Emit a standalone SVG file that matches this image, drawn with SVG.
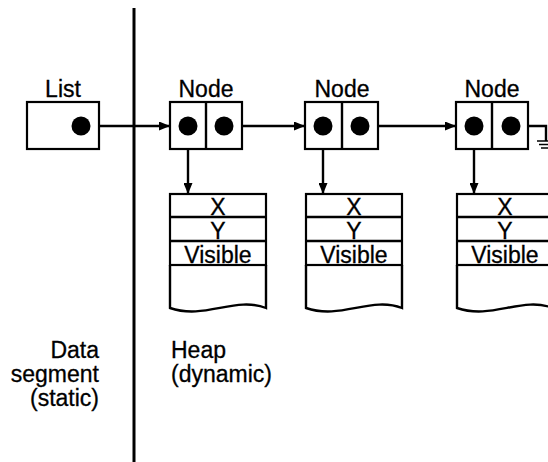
<svg xmlns="http://www.w3.org/2000/svg" width="548" height="462" viewBox="0 0 548 462">
  <style>
    .box { fill: #fff; stroke: #000; stroke-width: 2.2; }
    .line { fill: none; stroke: #000; stroke-width: 2.4; }
    .dot { fill: #000; }
    text { font-family: "Liberation Sans", Arial, sans-serif; font-size: 23px; fill: #000; stroke: #000; stroke-width: 0.3; }
    .mid { text-anchor: middle; }
    .end { text-anchor: end; }
  </style>
  <defs>
    <marker id="arrow" viewBox="0 0 11 9" refX="11" refY="4.5" markerWidth="11" markerHeight="9" markerUnits="userSpaceOnUse" orient="auto">
      <path d="M0,0 L11,4.5 L0,9 Z" fill="#000"/>
    </marker>
  </defs>

  <rect width="548" height="462" fill="#fff"/>

  <!-- boundary between static data and heap -->
  <line x1="134" y1="8" x2="134" y2="462" stroke="#000" stroke-width="3"/>

  <g id="regions">
    <text class="end" x="99" y="358">Data</text>
    <text class="end" x="99" y="382">segment</text>
    <text class="end" x="99" y="406">(static)</text>
    <text x="171" y="358">Heap</text>
    <text x="171" y="382">(dynamic)</text>
  </g>

  <!-- records -->
  <g id="record1">
    <rect class="box" x="170" y="194" width="96" height="71"/>
    <line class="line" x1="170" y1="217" x2="266" y2="217"/>
    <line class="line" x1="170" y1="241" x2="266" y2="241"/>
    <path class="line" d="M170,265 V308 C205,320 235,296 266,308 V265"/>
    <text class="mid" x="218" y="215">X</text>
    <text class="mid" x="218" y="239">Y</text>
    <text class="mid" x="218" y="263">Visible</text>
  </g>
  <g id="record2">
    <rect class="box" x="306" y="194" width="96" height="71"/>
    <line class="line" x1="306" y1="217" x2="402" y2="217"/>
    <line class="line" x1="306" y1="241" x2="402" y2="241"/>
    <path class="line" d="M306,265 V308 C341,320 371,296 402,308 V265"/>
    <text class="mid" x="354" y="215">X</text>
    <text class="mid" x="354" y="239">Y</text>
    <text class="mid" x="354" y="263">Visible</text>
  </g>
  <g id="record3">
    <rect class="box" x="457" y="194" width="96" height="71"/>
    <line class="line" x1="457" y1="217" x2="553" y2="217"/>
    <line class="line" x1="457" y1="241" x2="553" y2="241"/>
    <path class="line" d="M457,265 V308 C492,320 522,296 553,308 V265"/>
    <text class="mid" x="505" y="215">X</text>
    <text class="mid" x="505" y="239">Y</text>
    <text class="mid" x="505" y="263">Visible</text>
  </g>

  <!-- connectors -->
  <g id="connectors">
    <line class="line" x1="81" y1="126" x2="170" y2="126" marker-end="url(#arrow)"/>
    <line class="line" x1="224" y1="126" x2="305" y2="126" marker-end="url(#arrow)"/>
    <line class="line" x1="360" y1="126" x2="456" y2="126" marker-end="url(#arrow)"/>
    <line class="line" x1="188" y1="126" x2="188" y2="194" marker-end="url(#arrow)"/>
    <line class="line" x1="323" y1="126" x2="323" y2="194" marker-end="url(#arrow)"/>
    <line class="line" x1="474" y1="126" x2="474" y2="194" marker-end="url(#arrow)"/>
    <!-- null pointer: ground -->
    <path class="line" d="M511,126 H546 V141"/>
    <line x1="537" y1="141" x2="549" y2="141" stroke="#000" stroke-width="1.5"/>
    <line x1="539" y1="144.5" x2="549" y2="144.5" stroke="#000" stroke-width="1.5"/>
    <line x1="541" y1="148" x2="548" y2="148" stroke="#000" stroke-width="1.5"/>
  </g>

  <!-- list head and nodes -->
  <g id="list">
    <text class="mid" x="63" y="97">List</text>
    <rect class="box" x="27" y="102" width="72" height="47"/>
    <circle class="dot" cx="81" cy="126" r="9.5"/>
  </g>
  <g id="node1">
    <text class="mid" x="206" y="97">Node</text>
    <rect class="box" x="170" y="102" width="72" height="47"/>
    <line class="line" x1="206" y1="102" x2="206" y2="149"/>
    <circle class="dot" cx="188" cy="126" r="9.5"/>
    <circle class="dot" cx="224" cy="126" r="9.5"/>
  </g>
  <g id="node2">
    <text class="mid" x="342" y="97">Node</text>
    <rect class="box" x="305" y="102" width="73" height="47"/>
    <line class="line" x1="342" y1="102" x2="342" y2="149"/>
    <circle class="dot" cx="323" cy="126" r="9.5"/>
    <circle class="dot" cx="360" cy="126" r="9.5"/>
  </g>
  <g id="node3">
    <text class="mid" x="492" y="97">Node</text>
    <rect class="box" x="456" y="102" width="72" height="47"/>
    <line class="line" x1="492" y1="102" x2="492" y2="149"/>
    <circle class="dot" cx="474" cy="126" r="9.5"/>
    <circle class="dot" cx="511" cy="126" r="9.5"/>
  </g>
</svg>
